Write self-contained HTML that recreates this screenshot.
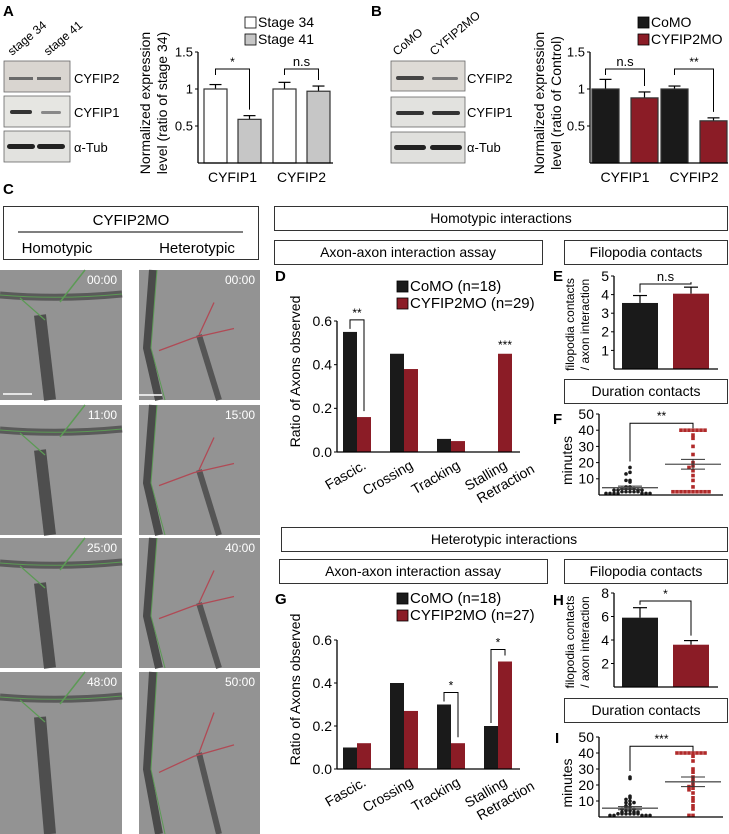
<!DOCTYPE html>
<html><head><meta charset="utf-8">
<style>
html,body{margin:0;padding:0;background:#fff;}
svg{display:block;font-family:"Liberation Sans",Arial,sans-serif;}
</style></head>
<body>
<svg id="fig" width="729" height="834" viewBox="0 0 729 834" xmlns="http://www.w3.org/2000/svg">
<g font-weight="bold" font-size="15">
<text x="3" y="16">A</text>
<text x="371" y="16">B</text>
<text x="3" y="194">C</text>
<text x="275" y="281">D</text>
<text x="553" y="281">E</text>
<text x="553" y="424">F</text>
<text x="275" y="604">G</text>
<text x="553" y="605">H</text>
<text x="555" y="743">I</text>
</g>

<g font-size="13">
<text transform="translate(12,56) rotate(-40)" font-size="12">stage 34</text>
<text transform="translate(48,56) rotate(-40)" font-size="12">stage 41</text>
<rect x="4" y="61" width="66" height="31" fill="#d9d5d0" stroke="#666" stroke-width="0.8"/>
<rect x="9" y="77" width="24" height="3" fill="#6a6a6a"/><rect x="37" y="77" width="24" height="3" fill="#6a6a6a"/>
<rect x="4" y="96" width="66" height="31" fill="#e6e6e2" stroke="#666" stroke-width="0.8"/>
<rect x="10" y="110" width="22" height="4" rx="2" fill="#333"/><rect x="41" y="111" width="20" height="3" rx="1.5" fill="#888"/>
<rect x="4" y="131" width="66" height="31" fill="#e2e2df" stroke="#666" stroke-width="0.8"/>
<rect x="7" y="144" width="28" height="5" rx="2.5" fill="#222"/><rect x="37" y="144" width="28" height="5" rx="2.5" fill="#222"/>
<text x="74" y="83">CYFIP2</text>
<text x="74" y="117">CYFIP1</text>
<text x="74" y="152">α-Tub</text>
</g>
<g font-size="13">
<text transform="translate(397,56) rotate(-40)" font-size="12">CoMO</text>
<text transform="translate(434,56) rotate(-40)" font-size="12">CYFIP2MO</text>
<rect x="391" y="61" width="74" height="30" fill="#dedbd6" stroke="#666" stroke-width="0.8"/>
<rect x="396" y="76" width="28" height="4" rx="2" fill="#444"/><rect x="432" y="77" width="26" height="3" rx="1.5" fill="#777"/>
<rect x="391" y="97" width="74" height="30" fill="#e2e2df" stroke="#666" stroke-width="0.8"/>
<rect x="396" y="111" width="28" height="4" rx="2" fill="#333"/><rect x="432" y="111" width="28" height="4" rx="2" fill="#333"/>
<rect x="391" y="132" width="74" height="31" fill="#e0e0dd" stroke="#666" stroke-width="0.8"/>
<rect x="394" y="145" width="32" height="5" rx="2.5" fill="#222"/><rect x="430" y="145" width="32" height="5" rx="2.5" fill="#222"/>
<text x="467" y="83">CYFIP2</text>
<text x="467" y="117">CYFIP1</text>
<text x="467" y="152">α-Tub</text>
</g>

<g fill="none" stroke="#333" stroke-width="1">
<rect x="3.5" y="206.5" width="255" height="53"/>
<line x1="18" y1="232" x2="243" y2="232" stroke-width="1.2"/>
<rect x="274.5" y="206.5" width="453" height="24"/>
<rect x="274.5" y="240.5" width="268" height="24"/>
<rect x="564.5" y="240.5" width="163" height="24"/>
<rect x="564.5" y="379.5" width="163" height="24"/>
<rect x="281.5" y="527.5" width="446" height="24"/>
<rect x="279.5" y="559.5" width="268" height="24"/>
<rect x="564.5" y="559.5" width="163" height="24"/>
<rect x="564.5" y="698.5" width="163" height="24"/>
</g>
<g font-size="14" text-anchor="middle">
<text x="131" y="225" font-size="15">CYFIP2MO</text>
<text x="57" y="253" font-size="15">Homotypic</text>
<text x="197" y="253" font-size="15">Heterotypic</text>
<text x="501" y="223">Homotypic interactions</text>
<text x="408" y="257">Axon-axon interaction assay</text>
<text x="646" y="257">Filopodia contacts</text>
<text x="646" y="396">Duration contacts</text>
<text x="504" y="544">Heterotypic interactions</text>
<text x="413" y="576">Axon-axon interaction assay</text>
<text x="646" y="576">Filopodia contacts</text>
<text x="646" y="715">Duration contacts</text>
</g>

<g id="micro"></g>
<g id="charts"></g>
</svg>
<script>
var aCats = ["CYFIP1", "CYFIP2"];
var aStage34 = [1.0, 1.0];
var aStage34Err = [0.06, 0.09];
var aStage41 = [0.59, 0.97];
var aStage41Err = [0.05, 0.07];
var aSig = ["*", "n.s"];

var bCats = ["CYFIP1", "CYFIP2"];
var bCoMO = [1.0, 1.0];
var bCoMOErr = [0.13, 0.04];
var bCyfip = [0.88, 0.57];
var bCyfipErr = [0.08, 0.04];
var bSig = ["n.s", "**"];

var topTicks = [0.5, 1, 1.5];
var topTickLabels = ["0.5", "1", "1.5"];

var assayCats = [["Fascic."], ["Crossing"], ["Tracking"], ["Stalling", "Retraction"]];
var assayTicks = [0, 0.2, 0.4, 0.6];
var assayTickLabels = ["0.0", "0.2", "0.4", "0.6"];
var dCoMO = [0.55, 0.45, 0.06, 0.0];
var dCyfip = [0.16, 0.38, 0.05, 0.45];
var gCoMO = [0.10, 0.40, 0.30, 0.20];
var gCyfip = [0.12, 0.27, 0.12, 0.50];

var eMeans = [3.55, 4.05];
var eErrs = [0.4, 0.35];
var eTicks = [1, 2, 3, 4, 5];
var hMeans = [5.9, 3.6];
var hErrs = [0.85, 0.35];
var hTicks = [2, 4, 6, 8];

var durTicks = [10, 20, 30, 40, 50];
var fCoMO = [17, 14, 13, 9, 9, 8, 5, 5, 4, 4, 4, 4, 3, 3, 3, 3, 2, 2, 2, 2, 2, 1, 1, 1, 1, 1, 1, 1];
var fCyfip = [40, 40, 40, 40, 40, 40, 40, 37, 35, 30, 25, 20, 18, 17, 15, 12, 9, 5, 2, 2, 2, 2, 2, 2, 2, 2, 2, 2];
var fMean = [4.5, 19];
var fSem = [1, 3];
var iCoMO = [25, 24, 13, 12, 11, 10, 9, 9, 8, 7, 6, 6, 5, 5, 4, 4, 3, 3, 3, 2, 2, 2, 2, 2, 2, 1, 1, 1, 1, 1];
var iCyfip = [40, 40, 40, 40, 40, 40, 40, 40, 38, 35, 30, 28, 25, 23, 22, 20, 19, 18, 17, 15, 12, 10, 7, 5, 1, 1];
var iMean = [5.5, 22];
var iSem = [1, 3];

var RED = "#8b1c26", BLK = "#1a1a1a", GRY = "#c6c6c6";
var NS = "http://www.w3.org/2000/svg";
var root = document.getElementById("charts");

function mk(tag, attrs, parent) {
  var el = document.createElementNS(NS, tag);
  for (var key in attrs) el.setAttribute(key, attrs[key]);
  (parent || root).appendChild(el);
  return el;
}
function txt(x, y, s, size, anchor, parent) {
  var t = mk("text", {x: x, y: y, "font-size": size, "text-anchor": anchor || "start"}, parent);
  t.textContent = s;
  return t;
}
function linScale(d0, d1, r0, r1) { return function (v) { return r0 + (v - d0) * (r1 - r0) / (d1 - d0); }; }
function safe(fn) { try { fn(); } catch (e) { if (window.console) console.log(e); } }

function axes(g, x0, x1, y0, yTop, ticks, labels, ys, size) {
  var ax = mk("line", {x1: x0, y1: y0, x2: x0, y2: yTop, stroke: "#000", "stroke-width": 1.3}, g);
  
  
  var bx = mk("line", {x1: x0, y1: y0, x2: x1, y2: y0, stroke: "#000", "stroke-width": 1.3}, g);
  
  
  for (var i = 0; i < ticks.length; i++) {
    var y = ys(ticks[i]);
    mk("line", {x1: x0 - 3, y1: y, x2: x0, y2: y, stroke: "#000"}, g);
    var t = txt(x0 - 5, y + size * 0.35, labels[i], size, "end", g);
    
    
  }
}
function bracket(g, xa, ya, xb, yb, top, label) {
  mk("path", {d: "M" + xa + "," + ya + "V" + top + "H" + xb + "V" + yb, fill: "none", stroke: "#000", "stroke-width": 1}, g);
  var t = txt((xa + xb) / 2, top - 3, label, label.indexOf("n") === 0 ? 13 : 12, "middle", g);
  
  
}
function legend(g, x, y, items) {
  for (var i = 0; i < items.length; i++) {
    var r = mk("rect", {x: x, y: y + i * 17 - 10, width: 11, height: 11, fill: items[i][1], stroke: "#000", "stroke-width": 0.8}, g);
    
    
    var t = txt(x + 13, y + i * 17, items[i][0], items[i][2] || 14, "start", g);
    
    
  }
}
function ylabel(g, x, y, lines, size) {
  for (var i = 0; i < lines.length; i++) {
    var t = mk("text", {transform: "translate(" + (x + i * (size + 3)) + "," + y + ") rotate(-90)", "font-size": size, "text-anchor": "middle"}, g);
    t.textContent = lines[i];
    
    
  }
}
function errBar(g, cx, yTop, yErr, w) {
  mk("line", {x1: cx, y1: yTop, x2: cx, y2: yErr, stroke: "#000", "stroke-width": 1.2}, g);
  mk("line", {x1: cx - w, y1: yErr, x2: cx + w, y2: yErr, stroke: "#000", "stroke-width": 1.2}, g);
}

function topChart(name, x0, x1, groupStarts, bw, gap, s1, e1, s2, e2, c1, c2, cats, sig, ylab, ylx) {
  var g = mk("g", {});
  
  
  var ys = linScale(0, 1.5, 163, 52);
  for (var i = 0; i < cats.length; i++) {
    var xa = groupStarts[i], xb = groupStarts[i] + gap;
    errBar(g, xa + bw / 2, ys(s1[i]), ys(s1[i] + e1[i]), 6);
    errBar(g, xb + bw / 2, ys(s2[i]), ys(s2[i] + e2[i]), 6);
    var r1 = mk("rect", {x: xa, y: ys(s1[i]), width: bw, height: ys(0) - ys(s1[i]), fill: c1, stroke: "#333", "stroke-width": 1.2}, g);
    
    
    var r2 = mk("rect", {x: xb, y: ys(s2[i]), width: bw, height: ys(0) - ys(s2[i]), fill: c2, stroke: "#333", "stroke-width": 1.2}, g);
    
    
    var top = ys(1.5) + 17;
    bracket(g, xa + bw / 2, Math.min(ys(s1[i] + e1[i]) - 4, top + 6), xb + bw / 2, ys(s2[i] + e2[i]) - 6, top, sig[i]);
    var cl = txt((xa + xb + bw) / 2, 182, cats[i], 14, "middle", g);
    
    
  }
  axes(g, x0, x1, 163, 52, topTicks, topTickLabels, ys, 13);
  ylabel(g, ylx, 103, ylab, 14);
  return g;
}
safe(function () {
  var gA = topChart("chart-a", 198, 333, [204, 273], 23, 34, aStage34, aStage34Err, aStage41, aStage41Err, "#fff", GRY, aCats, aSig, ["Normalized expression", "level (ratio of stage 34)"], 150);
  legend(gA, 245, 27, [["Stage 34", "#fff", 14], ["Stage 41", GRY, 14]]);
});
safe(function () {
  var gB = topChart("chart-b", 590, 728, [592, 661], 27, 39, bCoMO, bCoMOErr, bCyfip, bCyfipErr, BLK, RED, bCats, bSig, ["Normalized expression", "level (ratio of Control)"], 544);
  legend(gB, 638, 27, [["CoMO", BLK, 14], ["CYFIP2MO", RED, 14]]);
});

function assayChart(name, y0, yTop, blk, red, sigs, nRed) {
  var g = mk("g", {});
  
  
  var ys = linScale(0, 0.6, y0, yTop);
  var xc = linScale(0, 3, 357, 498);
  var bw = 14;
  for (var i = 0; i < assayCats.length; i++) {
    var c = xc(i);
    var b = mk("rect", {x: c - bw, y: ys(blk[i]), width: bw, height: y0 - ys(blk[i]), fill: BLK}, g);
    
    
    var r = mk("rect", {x: c, y: ys(red[i]), width: bw, height: y0 - ys(red[i]), fill: RED}, g);
    
    
    var t = mk("text", {transform: "translate(" + (c + 10) + "," + (y0 + 16) + ") rotate(-30)", "font-size": 14, "text-anchor": "end"}, g);
    for (var k = 0; k < assayCats[i].length; k++) {
      var ts = mk("tspan", {x: (k === 0 ? 0 : 22), dy: (k === 0 ? 0 : 17)}, t);
      ts.textContent = assayCats[i][k];
    }
    
    
    var s = sigs[i];
    if (s) {
      if (s.bracket) {
        var top = ys(Math.max(blk[i], red[i])) - 12;
        bracket(g, c - bw / 2, ys(blk[i]) - 3, c + bw / 2, ys(red[i]) - 6, top, s.label);
      } else {
        txt(c + bw / 2, ys(red[i]) - 5, s.label, 12, "middle", g);
      }
    }
  }
  axes(g, 337, 520, y0, yTop, assayTicks, assayTickLabels, ys, 14);
  ylabel(g, 300, (y0 + yTop) / 2 - 15, ["Ratio of Axons observed"], 14);
  legend(g, 397, 291 + (y0 - 452) + (y0 > 600 ? -5 : 0), [["CoMO (n=18)", BLK, 15], ["CYFIP2MO (n=" + nRed + ")", RED, 15]]);
  return g;
}
safe(function () { assayChart("chart-d", 452, 321, dCoMO, dCyfip, [{label: "**", bracket: true}, null, null, {label: "***"}], 29); });
safe(function () { assayChart("chart-g", 769, 640, gCoMO, gCyfip, [null, null, {label: "*", bracket: true}, {label: "*", bracket: true}], 27); });

function filoChart(name, y0, yTop, maxV, ticks, means, errs, sig) {
  var g = mk("g", {});
  
  
  var ys = linScale(0, maxV, y0, yTop);
  var cx = [640, 691], cols = [BLK, RED], nm = ["como", "cyfip2mo"];
  for (var i = 0; i < 2; i++) {
    errBar(g, cx[i], ys(means[i]), ys(means[i] + errs[i]), 7);
    var r = mk("rect", {x: cx[i] - 18, y: ys(means[i]), width: 36, height: y0 - ys(means[i]), fill: cols[i]}, g);
    
    
  }
  var top = ys(maxV) + 8;
  bracket(g, cx[0], ys(means[0] + errs[0]) - 3, cx[1], ys(means[1] + errs[1]) - 5, top, sig);
  axes(g, 614, 718, y0, yTop, ticks, ticks.map(String), ys, 14);
  ylabel(g, 574, (y0 + yTop) / 2 + 2, ["filopodia contacts", "/ axon interaction"], 12);
}
safe(function () { filoChart("chart-e", 369, 276, 5, eTicks, eMeans, eErrs, "n.s"); });
safe(function () { filoChart("chart-h", 687, 593, 8, hTicks, hMeans, hErrs, "*"); });

function scatter(name, y0, yTop, blk, red, means, sems, sig) {
  var g = mk("g", {});
  
  
  var ys = linScale(0, 50, y0, yTop);
  var groups = [[blk, 630, "como"], [red, 693, "cyfip2mo"]];
  for (var gi = 0; gi < 2; gi++) {
    var vals = groups[gi][0], cx = groups[gi][1];
    var counts = {};
    for (var i = 0; i < vals.length; i++) {
      var key = Math.round(vals[i] / 2);
      if (!counts[key]) counts[key] = 0;
      var n = counts[key]++;
      var off = (n % 2 === 0 ? 1 : -1) * Math.ceil(n / 2) * 4;
      var p;
      if (gi === 0) p = mk("circle", {cx: cx + off, cy: ys(vals[i]), r: 1.8, fill: BLK}, g);
      else p = mk("rect", {x: cx + off - 1.8, y: ys(vals[i]) - 1.8, width: 3.6, height: 3.6, fill: "#b02a2a"}, g);
      
      
    }
    var m = mk("line", {x1: cx - 28, y1: ys(means[gi]), x2: cx + 28, y2: ys(means[gi]), stroke: "#555", "stroke-width": 1.3}, g);
    
    
    mk("line", {x1: cx - 12, y1: ys(means[gi] + sems[gi]), x2: cx + 12, y2: ys(means[gi] + sems[gi]), stroke: "#333"}, g);
    mk("line", {x1: cx - 12, y1: ys(means[gi] - sems[gi]), x2: cx + 12, y2: ys(means[gi] - sems[gi]), stroke: "#333"}, g);
    mk("line", {x1: cx, y1: ys(means[gi] + sems[gi]), x2: cx, y2: ys(means[gi] - sems[gi]), stroke: "#333"}, g);
  }
  var top = ys(48) + 6;
  bracket(g, 630, ys(Math.max.apply(null, blk)) - 6, 693, top + 5, top, sig);
  axes(g, 599, 723, y0, yTop, durTicks, durTicks.map(String), ys, 14);
  ylabel(g, 572, (y0 + yTop) / 2 + 6, ["minutes"], 14);
}
safe(function () { scatter("chart-f", 495, 414, fCoMO, fCyfip, fMean, fSem, "**"); });
safe(function () { scatter("chart-i", 817, 737, iCoMO, iCyfip, iMean, iSem, "***"); });

safe(function () {
  var micro = document.getElementById("micro");
  var rows = [[270, 130, "00:00", "00:00"], [405, 130, "11:00", "15:00"], [538, 130, "25:00", "40:00"], [672, 162, "48:00", "50:00"]];
  for (var r = 0; r < rows.length; r++) {
    var y = rows[r][0], h = rows[r][1];
    for (var c = 0; c < 2; c++) {
      var x = c === 0 ? 0 : 139, w = c === 0 ? 122 : 121;
      var gg = mk("g", {}, micro);
      
      
      mk("rect", {x: x, y: y, width: w, height: h, fill: "#939393"}, gg);
      if (c === 0) {
        var d1 = "M" + x + "," + (y + 25) + " Q" + (x + 60) + "," + (y + 30) + " " + (x + w) + "," + (y + 24);
        mk("path", {d: d1, stroke: "#5a5a5a", "stroke-width": 7, fill: "none"}, gg);
        mk("path", {d: d1, stroke: "#5c9a55", "stroke-width": 1, fill: "none"}, gg);
        mk("path", {d: "M" + (x + 40) + "," + (y + 45) + " L" + (x + 50) + "," + (y + h), stroke: "#4e4e4e", "stroke-width": 12, fill: "none"}, gg);
        mk("path", {d: "M" + (x + 60) + "," + (y + 32) + " L" + (x + 85) + "," + y, stroke: "#5c9a55", "stroke-width": 1.5, fill: "none"}, gg);
        mk("path", {d: "M" + (x + 20) + "," + (y + 28) + " L" + (x + 45) + "," + (y + 50), stroke: "#5c9a55", "stroke-width": 1.2, fill: "none"}, gg);
      } else {
        mk("path", {d: "M" + (x + 14) + "," + y + " L" + (x + 8) + "," + (y + h * 0.6) + " L" + (x + 20) + "," + (y + h), stroke: "#4a4a4a", "stroke-width": 8, fill: "none"}, gg);
        mk("path", {d: "M" + (x + 18) + "," + y + " L" + (x + 12) + "," + (y + h * 0.6) + " L" + (x + 26) + "," + (y + h), stroke: "#5c9a55", "stroke-width": 1, fill: "none"}, gg);
        mk("path", {d: "M" + (x + 60) + "," + (y + h * 0.5) + " L" + (x + 80) + "," + (y + h), stroke: "#555", "stroke-width": 6, fill: "none"}, gg);
        mk("path", {d: "M" + (x + 20) + "," + (y + h * 0.62) + " L" + (x + 55) + "," + (y + h * 0.52) + " L" + (x + 95) + "," + (y + h * 0.45) + " M" + (x + 60) + "," + (y + h * 0.5) + " L" + (x + 75) + "," + (y + h * 0.25), stroke: "#b04a55", "stroke-width": 1.3, fill: "none"}, gg);
      }
      var t = txt(x + w - 5, y + 14, rows[r][2 + c], 12, "end", gg);
      t.setAttribute("fill", "#fff");
      
      
    }
  }
  var sb1 = mk("line", {x1: 3, y1: 394, x2: 32, y2: 394, stroke: "#fff", "stroke-width": 1.5}, micro);
  
  
  var sb2 = mk("line", {x1: 139, y1: 395, x2: 162, y2: 395, stroke: "#fff", "stroke-width": 1.5}, micro);
  
  
});
</script>
</body></html>
